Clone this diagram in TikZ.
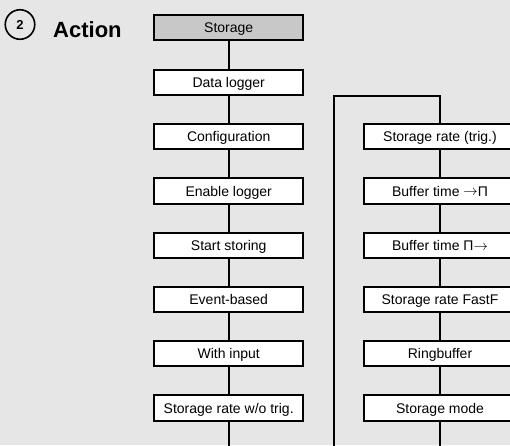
\documentclass[tikz,border=0pt]{standalone}
\usepackage{fontspec}
\setmainfont{Liberation Sans}
\definecolor{bgc}{HTML}{E6E6E6}
\definecolor{hdc}{HTML}{C8C8C8}
\newcommand{\rarr}{\raisebox{0.3pt}{$\rightarrow$}}
\begin{document}
\begin{tikzpicture}[x=1pt,y=-1pt,
  menubox/.style={draw=black,line width=2pt,fill=white,minimum height=25.5pt,inner sep=0pt,text height=10pt,text depth=0pt,font=\fontsize{14}{16}\selectfont},
  leftbox/.style={menubox,minimum width=149pt},
  rightbox/.style={menubox,minimum width=152pt},
  link/.style={line width=2pt,line join=miter}]
\useasboundingbox (0,0) rectangle (510,445);
\clip (0,0) rectangle (510,445);
\fill[bgc] (0,0) rectangle (510,445);
% header
\node[draw=black,line width=1.6pt,circle,minimum size=29.5pt,inner sep=0pt,font=\bfseries\fontsize{13}{15}\selectfont] (num) at (20,24.5) {2};
\node[anchor=base west,inner sep=0pt,font=\bfseries\fontsize{22}{26}\selectfont] (title) at (53,37.3) {Action};
% left column
\node[leftbox,fill=hdc] (l0) at (228.7,27.5) {Storage};
\node[leftbox] (l1) at (228.7,82.5) {Data logger};
\node[leftbox] (l2) at (228.7,136.5) {Configuration};
\node[leftbox] (l3) at (228.7,191) {Enable logger};
\node[leftbox] (l4) at (228.7,245.5) {Start storing};
\node[leftbox] (l5) at (228.7,299.5) {Event-based};
\node[leftbox] (l6) at (228.7,353.5) {With input};
\node[leftbox] (l7) at (228.7,408) {Storage rate w/o trig.};
% right column
\node[rightbox] (r1) at (440,136.5) {Storage rate (trig.)};
\node[rightbox] (r2) at (440,191) {Buffer time \rarr П};
\node[rightbox] (r3) at (440,245.5) {Buffer time П\rarr};
\node[rightbox] (r4) at (440,299.5) {Storage rate FastF};
\node[rightbox] (r5) at (440,353.5) {Ringbuffer};
\node[rightbox] (r6) at (440,408) {Storage mode};
% coordinates
\coordinate (lend) at (228.7,450);
\coordinate (rend) at (440,450);
\coordinate (ltop) at (334,96);
\coordinate (lbot) at (334,450);
\coordinate (rtop) at (440,96);
% connectors
\draw[link] (l0) -- (l1);
\draw[link] (l1) -- (l2);
\draw[link] (l2) -- (l3);
\draw[link] (l3) -- (l4);
\draw[link] (l4) -- (l5);
\draw[link] (l5) -- (l6);
\draw[link] (l6) -- (l7);
\draw[link] (l7) -- (lend);
\draw[link] (lbot) -- (ltop) -- (rtop) -- (r1);
\draw[link] (r1) -- (r2);
\draw[link] (r2) -- (r3);
\draw[link] (r3) -- (r4);
\draw[link] (r4) -- (r5);
\draw[link] (r5) -- (r6);
\draw[link] (r6) -- (rend);
\end{tikzpicture}
\end{document}
